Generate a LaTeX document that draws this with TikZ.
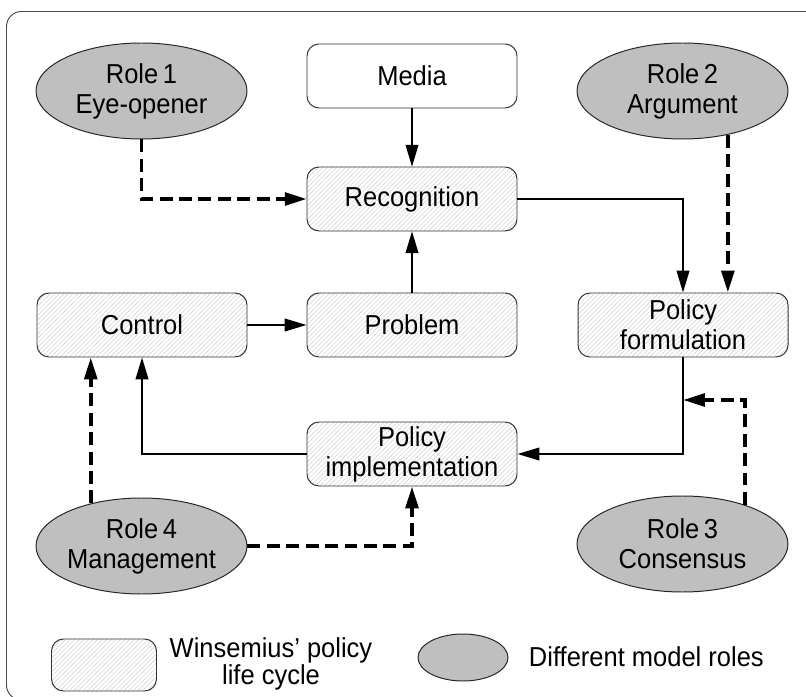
\documentclass[tikz,border=0pt]{standalone}
\usepackage{fontspec}
\setmainfont[FakeStretch=0.93]{Liberation Sans}
\usetikzlibrary{arrows.meta,patterns.meta,shapes.geometric}

\begin{document}
\begin{tikzpicture}[>={Triangle[length=15.5pt,width=9pt]},
  font=\fontsize{19.5}{21.3}\selectfont,
  phase/.style={draw=black!80, line width=0.7pt, rounded corners=0.3cm, minimum width=5.25cm, minimum height=1.6cm, align=center, inner sep=2pt},
  hatch/.style={pattern={Lines[angle=45, distance=2.3pt, line width=0.45pt]}, pattern color=black!16},
  role/.style={ellipse, draw=black!85, line width=0.7pt, fill=black!25, minimum width=5.275cm, minimum height=2.4cm, align=center, inner sep=0pt},
  flow/.style={->, line width=1.2pt},
  roleflow/.style={->, line width=2.6pt, dash pattern=on 9.2pt off 4.6pt}]
  \clip (0, 0) rectangle (20.15, 17.4);
  \draw[black!70, line width=0.7pt, rounded corners=0.375cm] (0.1625, -0.1) rectangle (20.6, 17.1125);

  % life cycle
  \node[phase, fill=white] (media) at (10.3, 15.5) {Media};
  \node[phase, hatch] (recog) at (10.3, 12.425) {Recognition};
  \node[phase, hatch] (prob) at (10.3, 9.275) {Problem};
  \node[phase, hatch] (ctrl) at (3.55, 9.275) {Control};
  \node[phase, hatch] (form) at (17.075, 9.275) {Policy\\formulation};
  \node[phase, hatch] (impl) at (10.3, 6.05) {Policy\\implementation};

  % roles
  \node[role] (role1) at (3.5375, 15.125) {Role\,1\\Eye-opener};
  \node[role] (role2) at (17.0625, 15.125) {Role\,2\\Argument};
  \node[role] (role3) at (17.0625, 3.8) {Role\,3\\Consensus};
  \node[role] (role4) at (3.5375, 3.75) {Role\,4\\Management};

  \draw[flow] (media) -- (recog);
  \draw[flow] (prob) -- (recog);
  \draw[flow] (ctrl) -- (prob);
  \draw[flow] (recog) -| (form);
  \draw[flow] (form) |- (impl);
  \draw[flow] (impl) -| (ctrl);

  \coordinate (join) at (form.south |- 0, 7.4);
  \draw[roleflow] (role1) |- (recog);
  \draw[roleflow] (role2.-44) -- (role2.-44 |- form.north);
  \draw[roleflow] (role3.32) |- (join);
  \draw[roleflow] (role4.140) -- (role4.140 |- ctrl.south);
  \draw[roleflow] (role4) -| (impl);

  % legend
  \node[phase, hatch, minimum width=2.625cm, minimum height=1.3cm] (keycycle) at (2.6, 0.775) {};
  \node[align=center, font=\fontsize{19.5}{17.5}\selectfont] (keycycletext) at (6.775, 0.8) {Winsemius’ policy\\life cycle};
  \node[role, minimum width=2.25cm, minimum height=1.175cm] (keyrole) at (11.575, 0.9625) {};
  \node[anchor=west] (keyroletext) at (13.1, 0.98) {Different model roles};
\end{tikzpicture}
\end{document}
